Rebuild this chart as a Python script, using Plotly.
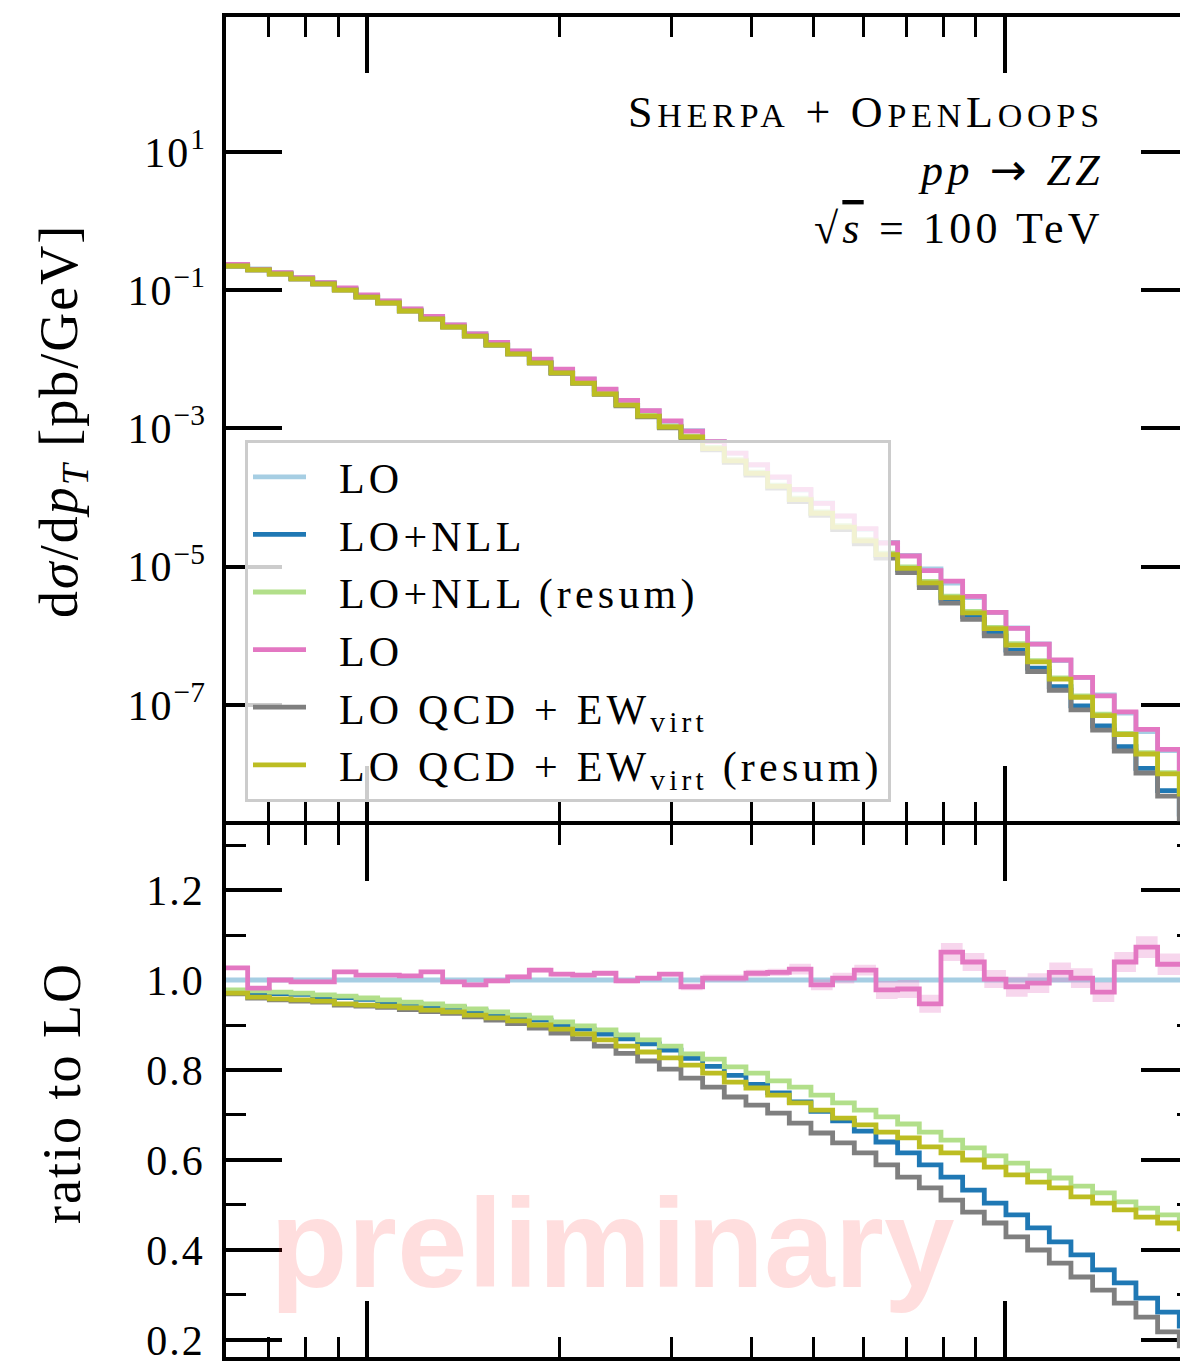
import math
import plotly.graph_objects as go

# ---------------------------------------------------------------- data
# transverse-momentum bin edges [GeV] (log-spaced)
pt_edges = [60.0, 64.88, 70.16, 75.87, 82.05, 88.72, 95.94, 103.75, 112.20, 121.33,
            131.20, 141.88, 153.42, 165.91, 179.41, 194.01, 209.80, 226.87, 245.34, 265.30,
            286.89, 310.24, 335.49, 362.79, 392.31, 424.26, 458.79, 496.13, 536.50, 580.16,
            627.38, 678.44, 733.65, 793.35, 857.92, 927.73, 1003.23, 1084.88, 1173.16, 1268.64,
            1371.88, 1483.52, 1604.25, 1734.81, 1875.99, 2028.66]

# LO differential cross section dsigma/dpT [pb/GeV] per bin
lo_xsec = [0.2308, 0.2040, 0.1791, 0.1522, 0.1292, 0.1062, 0.08437, 0.06932, 0.05327, 0.04108,
           0.03157, 0.02354, 0.01757, 0.01314, 0.009835, 0.007118, 0.005152, 0.003632, 0.002542, 0.001798,
           0.001267, 9.262e-4, 6.420e-4, 4.376e-4, 2.934e-4, 1.947e-4, 1.280e-4, 8.325e-5, 5.379e-5, 3.465e-5,
           2.246e-5, 1.452e-5, 9.262e-6, 5.789e-6, 3.570e-6, 2.167e-6, 1.292e-6, 7.583e-7, 4.376e-7, 2.484e-7,
           1.386e-7, 7.607e-8, 4.107e-8, 2.181e-8, 1.138e-8]

# ratios to LO per bin
ratio_lo_nll = [0.975, 0.972, 0.970, 0.968, 0.963, 0.961, 0.957, 0.952, 0.948, 0.943,
                0.939, 0.932, 0.924, 0.918, 0.911, 0.900, 0.891, 0.880, 0.869, 0.858,
                0.844, 0.826, 0.808, 0.788, 0.768, 0.749, 0.729, 0.708, 0.687, 0.664,
                0.640, 0.616, 0.589, 0.562, 0.533, 0.504, 0.478, 0.449, 0.418, 0.389,
                0.356, 0.327, 0.293, 0.262, 0.231]

ratio_lo_nll_resum = [0.978, 0.976, 0.973, 0.971, 0.967, 0.964, 0.960, 0.956, 0.951, 0.947,
                      0.942, 0.936, 0.929, 0.922, 0.916, 0.907, 0.898, 0.889, 0.878, 0.867,
                      0.853, 0.836, 0.824, 0.807, 0.793, 0.776, 0.762, 0.744, 0.727, 0.711,
                      0.696, 0.680, 0.662, 0.644, 0.627, 0.609, 0.593, 0.576, 0.560, 0.542,
                      0.527, 0.507, 0.493, 0.478, 0.464]

ratio_lo_stat = [1.027, 0.982, 1.000, 0.996, 0.996, 1.018, 1.011, 1.011, 1.009, 1.018,
                 0.996, 0.989, 0.998, 1.007, 1.022, 1.013, 1.011, 1.015, 0.998, 1.004,
                 1.013, 0.985, 1.004, 1.004, 1.015, 1.017, 1.024, 0.989, 1.004, 1.022,
                 0.978, 0.980, 0.947, 1.062, 1.040, 1.002, 0.985, 0.993, 1.017, 1.004,
                 0.973, 1.040, 1.073, 1.035, 1.035]

err_lo_stat = [0.004, 0.004, 0.004, 0.004, 0.004, 0.004, 0.004, 0.004, 0.004, 0.004,
               0.004, 0.005, 0.005, 0.005, 0.005, 0.005, 0.005, 0.005, 0.005, 0.005,
               0.005, 0.008, 0.008, 0.008, 0.008, 0.008, 0.012, 0.012, 0.012, 0.012,
               0.020, 0.020, 0.020, 0.020, 0.020, 0.020, 0.022, 0.022, 0.022, 0.022,
               0.022, 0.022, 0.024, 0.024, 0.024]

ratio_ew_virt = [0.969, 0.960, 0.956, 0.953, 0.951, 0.944, 0.942, 0.939, 0.934, 0.930,
                 0.926, 0.918, 0.911, 0.903, 0.893, 0.882, 0.869, 0.853, 0.837, 0.820,
                 0.802, 0.782, 0.762, 0.740, 0.722, 0.704, 0.682, 0.660, 0.638, 0.616,
                 0.589, 0.562, 0.538, 0.511, 0.484, 0.460, 0.429, 0.400, 0.371, 0.340,
                 0.311, 0.282, 0.251, 0.218, 0.187]

ratio_ew_virt_resum = [0.971, 0.962, 0.958, 0.956, 0.953, 0.947, 0.944, 0.942, 0.938, 0.933,
                       0.929, 0.922, 0.916, 0.909, 0.900, 0.891, 0.880, 0.867, 0.853, 0.840,
                       0.827, 0.811, 0.793, 0.773, 0.760, 0.744, 0.727, 0.711, 0.693, 0.678,
                       0.662, 0.649, 0.629, 0.616, 0.600, 0.584, 0.567, 0.551, 0.538, 0.518,
                       0.504, 0.489, 0.473, 0.460, 0.447]

ratio_ticks = [0.2, 0.4, 0.6, 0.8, 1.0, 1.2]
ratio_minor = [0.3, 0.5, 0.7, 0.9, 1.1, 1.3]
xsec_ticks = [1e-7, 1e-5, 1e-3, 1e-1, 1e1]
xsec_exponents = ["−7", "−5", "−3", "−1", "1"]
pt_major = [100, 1000]
pt_minor = [70, 80, 90, 200, 300, 400, 500, 600, 700, 800, 900]

# ---------------------------------------------------------------- helpers
def stairs(values):
    """Histogram outline: left edges + closing point at last right edge."""
    n = len(values)
    return pt_edges[: n + 1], list(values) + [values[-1]]


def spaced(text, spacing, size):
    """Wrap text in a span with explicit size and extra letter spacing."""
    return f"<span style='font-size:{size}px;letter-spacing:{spacing}px'>{text}</span>"


lo_ratio = [lo_xsec[i] / lo_xsec[i] for i in range(len(lo_xsec))]

LEG_SIZE = 42
legend_pad = f"<span style='font-size:{LEG_SIZE}px;letter-spacing:3.5px'>\u00a0\u00a0</span>"
samples = [
    ("LO", lo_ratio, "#a6cee3"),
    ("LO+NLL", ratio_lo_nll, "#1f78b4"),
    ("LO+NLL (resum)", ratio_lo_nll_resum, "#b2df8a"),
    ("LO", ratio_lo_stat, "#e377c2"),
    ("LO QCD + EW<sub>virt</sub>", ratio_ew_virt, "#7f7f7f"),
    ("LO QCD + EW<sub>virt</sub> (resum)", ratio_ew_virt_resum, "#bcbd22"),
]

LW = 4.8
fig = go.Figure()

# upper panel: absolute distributions
for name, ratio, color in samples:
    xs, ys = stairs([lo_xsec[i] * ratio[i] for i in range(len(lo_xsec))])
    fig.add_trace(go.Scatter(x=xs, y=ys, mode="lines",
                             name=legend_pad + spaced(name, 4.2, LEG_SIZE),
                             line=dict(color=color, width=LW, shape="hv"),
                             xaxis="x2", yaxis="y2", showlegend=True))

# lower panel: ratios to LO
for name, ratio, color in samples:
    if color == "#e377c2":
        lo_band = [ratio[i] - err_lo_stat[i] for i in range(len(ratio))]
        hi_band = [ratio[i] + err_lo_stat[i] for i in range(len(ratio))]
        xs, ys = stairs(lo_band)
        fig.add_trace(go.Scatter(x=xs, y=ys, mode="lines", line=dict(width=0, shape="hv"),
                                 xaxis="x", yaxis="y", showlegend=False, hoverinfo="skip"))
        xs, ys = stairs(hi_band)
        fig.add_trace(go.Scatter(x=xs, y=ys, mode="lines", line=dict(width=0, shape="hv"),
                                 fill="tonexty", fillcolor="rgba(227,119,194,0.3)",
                                 xaxis="x", yaxis="y", showlegend=False, hoverinfo="skip"))
    xs, ys = stairs(ratio)
    fig.add_trace(go.Scatter(x=xs, y=ys, mode="lines", name=name,
                             line=dict(color=color, width=LW, shape="hv"),
                             xaxis="x", yaxis="y", showlegend=False))

# ---------------------------------------------------------------- layout
W, H = 1200, 1361
ML, MR, MT, MB = 226, 3, 17, 4
PW, PH = W - ML - MR, H - MT - MB
SPINE = 3.5
MID = 823                      # pixel row shared by both panels' spines
lower_top = (MT + PH - (MID + SPINE / 2)) / PH
upper_bot = (MT + PH - (MID - SPINE / 2)) / PH

axis_style = dict(showline=True, linewidth=SPINE, linecolor="black", mirror="ticks",
                  ticks="inside", tickcolor="black", ticklen=56, tickwidth=3.5,
                  showgrid=False, zeroline=False, automargin=False, layer="below traces")
minor_style = dict(ticks="inside", ticklen=20, tickwidth=2.8, tickcolor="black", showgrid=False)

xrange_log = [math.log10(60), math.log10(2000)]
TICK_SIZE = 42

fig.update_layout(
    width=W, height=H,
    margin=dict(l=ML, r=MR, t=MT, b=MB, pad=0, autoexpand=False),
    paper_bgcolor="white", plot_bgcolor="white",
    font=dict(family="Liberation Serif", size=42, color="black"),
    xaxis=dict(domain=[0, 1], anchor="y", type="log", range=xrange_log,
               tickvals=pt_major, showticklabels=False,
               minor=dict(tickvals=pt_minor, **minor_style), **axis_style),
    xaxis2=dict(domain=[0, 1], anchor="y2", type="log", range=xrange_log, matches="x",
                tickvals=pt_major, showticklabels=False,
                minor=dict(tickvals=pt_minor, **minor_style), **axis_style),
    yaxis=dict(domain=[0, lower_top], anchor="x", range=[0.1622, 1.345],
               tickvals=ratio_ticks,
               ticktext=[spaced(f"{v:.1f}", 2, TICK_SIZE) for v in ratio_ticks],
               ticklabelstandoff=9, ticklabeloverflow="allow", tickfont=dict(size=TICK_SIZE),
               minor=dict(tickvals=ratio_minor, **minor_style), **axis_style),
    yaxis2=dict(domain=[upper_bot, 1], anchor="x2", type="log", range=[-8.6852, 2.9537],
                tickvals=xsec_ticks,
                ticktext=[spaced("10", 2, TICK_SIZE) + f"<sup>{e}</sup>" for e in xsec_exponents],
                ticklabelstandoff=9, ticklabeloverflow="allow", tickfont=dict(size=TICK_SIZE),
                **axis_style),
    legend=dict(x=(245 - ML) / PW, y=(MT + PH - 440) / PH, xanchor="left", yanchor="top",
                traceorder="normal",
                bgcolor="rgba(255,255,255,0.8)", bordercolor="#cccccc", borderwidth=3,
                font=dict(family="Liberation Serif", size=LEG_SIZE), itemwidth=53,
                tracegroupgap=0),
)

def py(pixel_y):
    return (MT + PH - pixel_y) / PH

def px(pixel_x):
    return (pixel_x - ML) / PW

sc = "font-size:34px"
annotations = [
    dict(text=spaced(f"S<span style='{sc}'>HERPA</span> + O<span style='{sc}'>PEN</span>"
                     f"L<span style='{sc}'>OOPS</span>", 4.8, 44),
         x=px(1106), y=py(113), xanchor="right", yanchor="middle", font=dict(size=44)),
    dict(text=spaced("<i>pp</i> <span style='font-family:DejaVu Sans'>→</span> <i>ZZ</i>", 4.5, 44),
         x=px(1106), y=py(170), xanchor="right", yanchor="middle", font=dict(size=44)),
    dict(text=spaced("√<span style='text-decoration:overline'><i>s</i></span> = 100 TeV", 4.2, 44),
         x=px(1106), y=py(228), xanchor="right", yanchor="middle", font=dict(size=44)),
    dict(text=spaced("d<i>σ</i>/d<i>p</i><sub><i>T</i></sub> [pb/GeV]", 2, 54), textangle=-90,
         x=px(62), y=py(421), xanchor="center", yanchor="middle", font=dict(size=54)),
    dict(text=spaced("ratio to LO", 2, 54), textangle=-90,
         x=px(62), y=py(1093), xanchor="center", yanchor="middle", font=dict(size=54)),
    dict(text="preliminary", x=px(612), y=py(1243), xanchor="center", yanchor="middle",
         font=dict(family="Liberation Sans", size=127, weight="bold", color="rgba(255,0,0,0.13)")),
]
for a in annotations:
    a.update(xref="paper", yref="paper", showarrow=False)
fig.update_layout(annotations=annotations)

fig.write_html("out.html",
               post_script="document.documentElement.style.overflow='hidden';"
                           "document.body.style.overflow='hidden';")
